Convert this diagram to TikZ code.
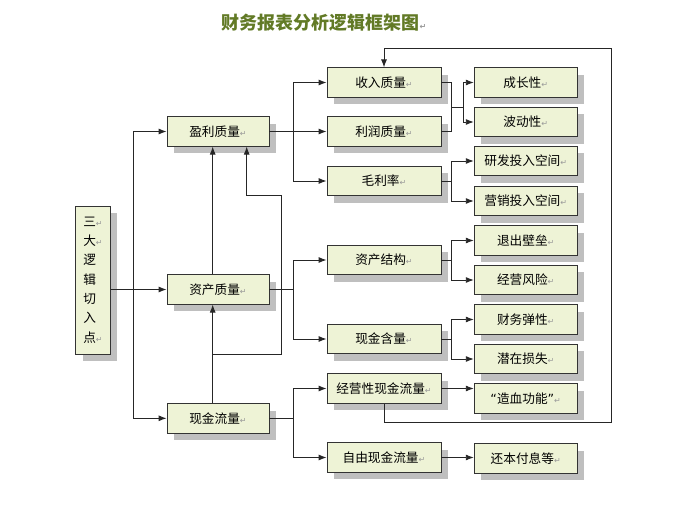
\documentclass[tikz,border=0pt]{standalone}
\usepackage{fontspec}
\usepackage{xcolor}
\usetikzlibrary{arrows.meta,shadows}
\newfontfamily\cjk{Noto Sans CJK SC}
\newfontfamily\djv{DejaVu Sans}
\definecolor{boxfill}{RGB}{238,243,214}
\definecolor{titlegreen}{RGB}{98,122,38}
\newcommand{\retmark}{{\djv\fontsize{6}{6}\selectfont\color{black!40}↵}}

\begin{document}
\begin{tikzpicture}[x=0.75pt,y=0.75pt,yscale=-1,xscale=1,
  box/.style={draw=black!80,line width=0.6pt,fill=boxfill,inner sep=0pt,
    minimum height=22pt,font=\cjk\fontsize{9.5}{11}\selectfont,
    drop shadow={shadow xshift=5.25pt,shadow yshift=-5.25pt,fill=black!25,opacity=1}},
  lbox/.style={box,minimum width=76.5pt},
  mbox/.style={box,minimum width=85.5pt},
  rbox/.style={box,minimum width=77.25pt},
  link/.style={draw=black!85,line width=0.7pt,-{Latex[length=6pt,width=4.5pt]}},
  line/.style={draw=black!85,line width=0.7pt},
  both/.style={link,{Latex[length=6pt,width=4.5pt]}-{Latex[length=6pt,width=4.5pt]}}]
\useasboundingbox (0,0) rectangle (675,506);

% Title
\node (title) at (324,23) {\cjk\bfseries\fontsize{13.5}{15}\selectfont\color{titlegreen}财务报表分析逻辑框架图\retmark};

% Left box
\node[box,minimum width=26pt,minimum height=111pt,align=left,
  font=\cjk\fontsize{9.5}{14.5}\selectfont] (sd) at (93,280)
  {三\retmark\\大\retmark\\逻\\辑\\切\\入\\点\retmark};

% Three angles
\node[lbox] (yl) at (218,131.5) {盈利质量\retmark};
\node[lbox] (zc) at (218,289.5) {资产质量\retmark};
\node[lbox] (xj) at (218,418.3) {现金流量\retmark};

% Middle column
\node[mbox] (sr) at (384,82.5) {收入质量\retmark};
\node[mbox] (lr) at (384,131.5) {利润质量\retmark};
\node[mbox] (ml) at (384,181) {毛利率\retmark};
\node[mbox] (jg) at (384,260) {资产结构\retmark};
\node[mbox] (hl) at (384,339) {现金含量\retmark};
\node[mbox] (jy) at (384,388.5) {经营性现金流量\retmark};
\node[mbox] (zy) at (384,457.5) {自由现金流量\retmark};

% Right column
\node[rbox] (cz) at (525.7,82.5) {成长性\retmark};
\node[rbox] (bd) at (525.7,122) {波动性\retmark};
\node[rbox] (yf) at (525.7,161) {研发投入空间\retmark};
\node[rbox] (yx) at (525.7,201) {营销投入空间\retmark};
\node[rbox] (tc) at (525.7,240.5) {退出壁垒\retmark};
\node[rbox] (fx) at (525.7,280) {经营风险\retmark};
\node[rbox] (tx) at (525.7,319.5) {财务弹性\retmark};
\node[rbox] (qz) at (525.7,359) {潜在损失\retmark};
\node[rbox] (zx) at (525.7,398.5) {{\djv“}造血功能{\djv”}\retmark};
\node[rbox] (hb) at (525.7,458.3) {还本付息等\retmark};

% Branch points
\coordinate (tk) at (133,0);
\coordinate (b1) at (293,0);
\coordinate (b2) at (451.7,0);
\coordinate (b3) at (463.3,0);
\coordinate (u1) at (212.7,0);
\coordinate (u2) at (246.7,0);
\coordinate (r1) at (281,354);
\coordinate (r2) at (281,195);
\coordinate (lp1) at (611,422);
\coordinate (lp2) at (611,48);

% Entry points
\draw[link] (sd.east |- zc.west) -- (zc.west);
\draw[both] (yl.west) -| (tk |- xj.west) -- (xj.west);

% Profit quality
\draw[link] (yl.east) -- (lr.west);
\draw[both] (sr.west) -| (b1 |- ml.west) -- (ml.west);

% Asset quality
\draw[line] (zc.east) -- (b1 |- zc.east);
\draw[both] (jg.west) -| (b1 |- hl.west) -- (hl.west);

% Cash flow
\draw[line] (xj.east) -- (b1 |- xj.east);
\draw[both] (jy.west) -| (b1 |- zy.west) -- (zy.west);

% Upward links
\draw[link] (u1 |- zc.north) -- (u1 |- yl.south);
\draw[link] (u1 |- xj.north) -- (u1 |- zc.south);
\draw[link] (u1 |- r1) -- (r1) -- (r2) -| (u2 |- yl.south);

% Second level
\path (sr.east) -- coordinate[midway] (j1) (lr.east);
\draw[line] (sr.east) -| (b2 |- lr.east) -- (lr.east);
\draw[line] (b2 |- j1) -- (b3 |- j1);
\draw[both] (cz.west) -| (b3 |- bd.west) -- (bd.west);
\draw[line] (ml.east) -- (b2 |- ml.east);
\draw[both] (yf.west) -| (b2 |- yx.west) -- (yx.west);
\draw[line] (jg.east) -- (b2 |- jg.east);
\draw[both] (tc.west) -| (b2 |- fx.west) -- (fx.west);
\draw[line] (hl.east) -- (b2 |- hl.east);
\draw[both] (tx.west) -| (b2 |- qz.west) -- (qz.west);
\draw[link] (jy.east) -- (jy.east -| zx.west);
\draw[link] (zy.east) -- (zy.east -| hb.west);

% Feedback loop
\draw[link] (jy.south) |- (lp1) -- (lp2) -| (sr.north);

\end{tikzpicture}
\end{document}
